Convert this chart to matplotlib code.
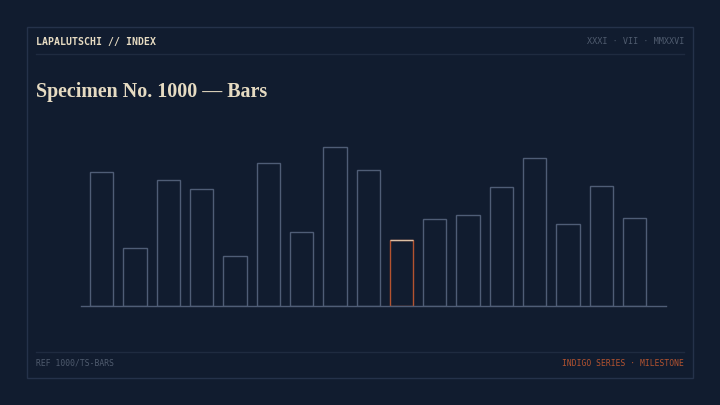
import matplotlib
matplotlib.use("Agg")
import matplotlib.pyplot as plt
from matplotlib.patches import Rectangle
from matplotlib.lines import Line2D

# ---- data ----
values = [134, 58, 126, 117, 50, 143, 74, 159, 136, 66, 87, 91, 119, 148, 82, 120, 88]
highlight_index = 9
header_left = "LAPALUTSCHI // INDEX"
header_right = "XXXI · VII · MMXXVI"
title = "Specimen No. 1000 — Bars"
footer_left = "REF 1000/TS-BARS"
footer_right = "INDIGO SERIES · MILESTONE"

BG = "#111c2f"
BORDER = "#25324a"
RULE = "#1f2b40"
BAR_EDGE = "#4f5d76"
ORANGE = "#b4532f"
CREAM = "#e6dbc2"
GREY = "#4f5b6e"

W, H = 720, 405
fig = plt.figure(figsize=(W / 100, H / 100), dpi=100, facecolor=BG)

def px(x, y):
    return x / W, 1 - y / H

# frame
fig.patches.append(Rectangle(px(27, 378), 666 / W, 351 / H, transform=fig.transFigure,
                             fill=False, edgecolor=BORDER, linewidth=1.0))
# rules
for yy in (53.5, 351.5):
    x0, y0 = px(36, yy)
    x1, _ = px(684, yy)
    fig.lines.append(Line2D([x0, x1], [y0, y0], transform=fig.transFigure, color=RULE, linewidth=1.0))

fig.text(*px(36, 42), header_left, color=CREAM, fontsize=7.1, fontweight="bold",
         family="DejaVu Sans Mono", va="center", ha="left")
fig.text(*px(684, 42), header_right, color=GREY, fontsize=6.1,
         family="DejaVu Sans Mono", va="center", ha="right")
fig.text(*px(36, 363), footer_left, color=GREY, fontsize=5.8,
         family="DejaVu Sans Mono", va="center", ha="left")
fig.text(*px(684, 363), footer_right, color=ORANGE, fontsize=5.8,
         family="DejaVu Sans Mono", va="center", ha="right")

t = fig.text(*px(36, 97.5), title, color=CREAM, fontsize=14, fontweight="bold",
             family="Liberation Serif", va="baseline", ha="left")
# fit title width to ~232 px
fig.canvas.draw()
r = fig.canvas.get_renderer()
w = t.get_window_extent(r).width
t.set_fontsize(14 * 232 / w)

# axes: baseline y=306 from x=81 to 666
ax_left, ax_bottom = px(81, 306)
ax = fig.add_axes([ax_left, ax_bottom, (666 - 81) / W, (306 - 140) / H])
ax.set_facecolor("none")
n = len(values)
xs = list(range(n))
bars = ax.bar(xs, values, width=0.7, facecolor="none", edgecolor=BAR_EDGE, linewidth=1.0)
hb = bars[highlight_index]
hb.set_edgecolor(ORANGE)
ax.plot([highlight_index - 0.35, highlight_index + 0.35], [values[highlight_index]] * 2,
        color=CREAM, linewidth=1.0, alpha=0.8, solid_capstyle="butt")
ax.set_xlim(-0.62, n - 1 + 0.94)
ax.set_ylim(0, 166)
for s in ("top", "right", "left"):
    ax.spines[s].set_visible(False)
ax.spines["bottom"].set_color(BAR_EDGE)
ax.spines["bottom"].set_linewidth(1.0)
ax.set_xticks([])
ax.set_yticks([])

fig.savefig("out.png", dpi=100, facecolor=BG)
